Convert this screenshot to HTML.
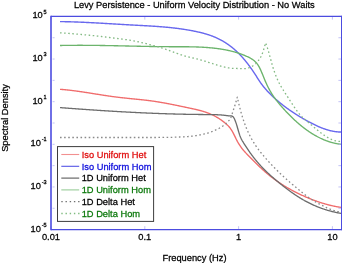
<!DOCTYPE html>
<html><head><meta charset="utf-8"><style>
html,body{margin:0;padding:0;background:#fff;}
svg{display:block;}
text{font-family:'Liberation Sans', Arial, Helvetica, sans-serif;}
</style></head><body>
<svg width="342" height="263" viewBox="0 0 342 263">
<rect width="342" height="263" fill="#fff"/>

<text transform="translate(194.30,8.10) scale(0.94,1)" font-size="9.9" text-anchor="middle" fill="#000" stroke="#000" stroke-width="0.27">Levy Persistence - Uniform Velocity Distribution - No Waits</text>
<g fill="none" stroke-linejoin="round">
<path d="M60.0,21.60 60.5,21.61 61.0,21.62 61.5,21.62 62.0,21.63 62.5,21.64 63.0,21.64 63.5,21.65 64.0,21.66 64.5,21.67 65.0,21.68 65.5,21.69 66.0,21.70 66.5,21.71 67.0,21.72 67.5,21.74 68.0,21.75 68.5,21.76 69.0,21.77 69.5,21.79 70.0,21.80 70.5,21.81 71.0,21.83 71.5,21.84 72.0,21.86 72.5,21.87 73.0,21.89 73.5,21.91 74.0,21.92 74.5,21.94 75.0,21.96 75.5,21.97 76.0,21.99 76.5,22.01 77.0,22.03 77.5,22.05 78.0,22.07 78.5,22.09 79.0,22.10 79.5,22.12 80.0,22.15 80.5,22.17 81.0,22.19 81.5,22.21 82.0,22.23 82.5,22.25 83.0,22.27 83.5,22.29 84.0,22.32 84.5,22.34 85.0,22.36 85.5,22.38 86.0,22.41 86.5,22.43 87.0,22.46 87.5,22.48 88.0,22.50 88.5,22.53 89.0,22.55 89.5,22.58 90.0,22.60 90.5,22.63 91.0,22.65 91.5,22.68 92.0,22.71 92.5,22.73 93.0,22.76 93.5,22.78 94.0,22.81 94.5,22.84 95.0,22.86 95.5,22.89 96.0,22.92 96.5,22.95 97.0,22.97 97.5,23.00 98.0,23.03 98.5,23.06 99.0,23.08 99.5,23.11 100.0,23.14 100.5,23.17 101.0,23.20 101.5,23.23 102.0,23.25 102.5,23.28 103.0,23.31 103.5,23.34 104.0,23.37 104.5,23.40 105.0,23.43 105.5,23.46 106.0,23.49 106.5,23.52 107.0,23.55 107.5,23.58 108.0,23.61 108.5,23.64 109.0,23.66 109.5,23.69 110.0,23.72 110.5,23.75 111.0,23.78 111.5,23.81 112.0,23.84 112.5,23.87 113.0,23.90 113.5,23.93 114.0,23.96 114.5,23.99 115.0,24.02 115.5,24.05 116.0,24.08 116.5,24.11 117.0,24.14 117.5,24.17 118.0,24.20 118.5,24.23 119.0,24.26 119.5,24.29 120.0,24.32 120.5,24.35 121.0,24.38 121.5,24.41 122.0,24.44 122.5,24.47 123.0,24.50 123.5,24.53 124.0,24.56 124.5,24.59 125.0,24.61 125.5,24.64 126.0,24.67 126.5,24.70 127.0,24.73 127.5,24.76 128.0,24.79 128.5,24.81 129.0,24.84 129.5,24.87 130.0,24.90 130.5,24.93 131.0,24.95 131.5,24.98 132.0,25.01 132.5,25.03 133.0,25.06 133.5,25.09 134.0,25.12 134.5,25.14 135.0,25.17 135.5,25.20 136.0,25.22 136.5,25.25 137.0,25.28 137.5,25.30 138.0,25.33 138.5,25.36 139.0,25.38 139.5,25.41 140.0,25.44 140.5,25.46 141.0,25.49 141.5,25.52 142.0,25.54 142.5,25.57 143.0,25.60 143.5,25.62 144.0,25.65 144.5,25.68 145.0,25.71 145.5,25.74 146.0,25.76 146.5,25.79 147.0,25.82 147.5,25.85 148.0,25.88 148.5,25.91 149.0,25.94 149.5,25.97 150.0,26.00 150.5,26.03 151.0,26.06 151.5,26.09 152.0,26.12 152.5,26.15 153.0,26.19 153.5,26.22 154.0,26.25 154.5,26.28 155.0,26.32 155.5,26.35 156.0,26.39 156.5,26.42 157.0,26.46 157.5,26.49 158.0,26.53 158.5,26.57 159.0,26.60 159.5,26.64 160.0,26.68 160.5,26.72 161.0,26.76 161.5,26.80 162.0,26.84 162.5,26.88 163.0,26.92 163.5,26.96 164.0,27.00 164.5,27.05 165.0,27.09 165.5,27.14 166.0,27.18 166.5,27.23 167.0,27.27 167.5,27.32 168.0,27.37 168.5,27.42 169.0,27.47 169.5,27.52 170.0,27.57 170.5,27.62 171.0,27.67 171.5,27.72 172.0,27.78 172.5,27.83 173.0,27.89 173.5,27.95 174.0,28.00 174.5,28.06 175.0,28.12 175.5,28.18 176.0,28.24 176.5,28.30 177.0,28.36 177.5,28.43 178.0,28.49 178.5,28.56 179.0,28.62 179.5,28.69 180.0,28.76 180.5,28.83 181.0,28.90 181.5,28.97 182.0,29.04 182.5,29.11 183.0,29.19 183.5,29.26 184.0,29.34 184.5,29.42 185.0,29.49 185.5,29.57 186.0,29.65 186.5,29.74 187.0,29.82 187.5,29.90 188.0,29.99 188.5,30.07 189.0,30.16 189.5,30.25 190.0,30.34 190.5,30.43 191.0,30.52 191.5,30.62 192.0,30.71 192.5,30.81 193.0,30.91 193.5,31.00 194.0,31.10 194.5,31.21 195.0,31.31 195.5,31.41 196.0,31.52 196.5,31.62 197.0,31.73 197.5,31.84 198.0,31.95 198.5,32.06 199.0,32.18 199.5,32.30 200.0,32.41 200.5,32.53 201.0,32.66 201.5,32.78 202.0,32.91 202.5,33.03 203.0,33.17 203.5,33.30 204.0,33.44 204.5,33.57 205.0,33.71 205.5,33.86 206.0,34.01 206.5,34.16 207.0,34.31 207.5,34.46 208.0,34.62 208.5,34.78 209.0,34.95 209.5,35.12 210.0,35.29 210.5,35.46 211.0,35.64 211.5,35.83 212.0,36.01 212.5,36.20 213.0,36.40 213.5,36.59 214.0,36.80 214.5,37.00 215.0,37.21 215.5,37.43 216.0,37.65 216.5,37.87 217.0,38.10 217.5,38.33 218.0,38.57 218.5,38.81 219.0,39.05 219.5,39.31 220.0,39.56 220.5,39.82 221.0,40.09 221.5,40.36 222.0,40.64 222.5,40.92 223.0,41.21 223.5,41.50 224.0,41.80 224.5,42.10 225.0,42.41 225.5,42.73 226.0,43.05 226.5,43.38 227.0,43.71 227.5,44.05 228.0,44.40 228.5,44.75 229.0,45.11 229.5,45.47 230.0,45.84 230.5,46.22 231.0,46.61 231.5,47.00 232.0,47.39 232.5,47.80 233.0,48.21 233.5,48.63 234.0,49.06 234.5,49.49 235.0,49.93 235.5,50.38 236.0,50.83 236.5,51.29 237.0,51.76 237.5,52.24 238.0,52.73 238.5,53.22 239.0,53.72 239.5,54.23 240.0,54.75 240.5,55.27 241.0,55.80 241.5,56.35 242.0,56.90 242.5,57.45 243.0,58.02 243.5,58.59 244.0,59.18 244.5,59.77 245.0,60.37 245.5,60.98 246.0,61.60 246.5,62.23 247.0,62.86 247.5,63.51 248.0,64.16 248.5,64.82 249.0,65.49 249.5,66.17 250.0,66.86 250.5,67.55 251.0,68.25 251.5,68.96 252.0,69.68 252.5,70.41 253.0,71.14 253.5,71.88 254.0,72.63 254.5,73.38 255.0,74.14 255.5,74.91 256.0,75.69 256.5,76.47 257.0,77.26 257.5,78.04 258.0,78.83 258.5,79.61 259.0,80.38 259.5,81.14 260.0,81.88 260.5,82.61 261.0,83.32 261.5,84.01 262.0,84.68 262.5,85.33 263.0,85.97 263.5,86.60 264.0,87.21 264.5,87.81 265.0,88.41 265.5,88.99 266.0,89.56 266.5,90.13 267.0,90.68 267.5,91.23 268.0,91.77 268.5,92.29 269.0,92.82 269.5,93.33 270.0,93.83 270.5,94.33 271.0,94.82 271.5,95.31 272.0,95.79 272.5,96.26 273.0,96.73 273.5,97.19 274.0,97.64 274.5,98.09 275.0,98.54 275.5,98.98 276.0,99.42 276.5,99.86 277.0,100.29 277.5,100.72 278.0,101.14 278.5,101.56 279.0,101.98 279.5,102.39 280.0,102.80 280.5,103.21 281.0,103.61 281.5,104.01 282.0,104.41 282.5,104.80 283.0,105.19 283.5,105.58 284.0,105.96 284.5,106.34 285.0,106.72 285.5,107.10 286.0,107.47 286.5,107.84 287.0,108.20 287.5,108.56 288.0,108.92 288.5,109.28 289.0,109.63 289.5,109.99 290.0,110.33 290.5,110.68 291.0,111.02 291.5,111.36 292.0,111.70 292.5,112.04 293.0,112.37 293.5,112.70 294.0,113.03 294.5,113.35 295.0,113.68 295.5,114.00 296.0,114.31 296.5,114.63 297.0,114.94 297.5,115.26 298.0,115.56 298.5,115.87 299.0,116.18 299.5,116.48 300.0,116.78 300.5,117.08 301.0,117.38 301.5,117.67 302.0,117.96 302.5,118.25 303.0,118.54 303.5,118.83 304.0,119.12 304.5,119.40 305.0,119.68 305.5,119.96 306.0,120.24 306.5,120.52 307.0,120.80 307.5,121.07 308.0,121.34 308.5,121.61 309.0,121.88 309.5,122.15 310.0,122.42 310.5,122.68 311.0,122.94 311.5,123.20 312.0,123.45 312.5,123.71 313.0,123.96 313.5,124.21 314.0,124.46 314.5,124.70 315.0,124.94 315.5,125.18 316.0,125.42 316.5,125.65 317.0,125.88 317.5,126.11 318.0,126.33 318.5,126.55 319.0,126.77 319.5,126.98 320.0,127.20 320.5,127.40 321.0,127.61 321.5,127.81 322.0,128.00 322.5,128.20 323.0,128.38 323.5,128.57 324.0,128.75 324.5,128.93 325.0,129.10 325.5,129.27 326.0,129.43 326.5,129.59 327.0,129.75 327.5,129.90 328.0,130.04 328.5,130.19 329.0,130.32 329.5,130.45 330.0,130.58 330.5,130.70 331.0,130.82 331.5,130.93 332.0,131.04 332.5,131.14 333.0,131.24 333.5,131.33 334.0,131.42 334.5,131.50 335.0,131.57 335.5,131.64 336.0,131.70 336.5,131.76 337.0,131.81 337.5,131.86 338.0,131.89 338.5,131.93 339.0,131.95 339.5,131.98 340.0,131.99 340.5,132.00 341.0,132.00" stroke="#6868ee" stroke-width="1.4"/>
<path d="M60.0,45.50 60.5,45.49 61.0,45.48 61.5,45.47 62.0,45.46 62.5,45.45 63.0,45.44 63.5,45.43 64.0,45.42 64.5,45.41 65.0,45.41 65.5,45.40 66.0,45.39 66.5,45.38 67.0,45.38 67.5,45.37 68.0,45.36 68.5,45.36 69.0,45.35 69.5,45.35 70.0,45.34 70.5,45.34 71.0,45.33 71.5,45.33 72.0,45.32 72.5,45.32 73.0,45.31 73.5,45.31 74.0,45.31 74.5,45.31 75.0,45.30 75.5,45.30 76.0,45.30 76.5,45.30 77.0,45.30 77.5,45.29 78.0,45.29 78.5,45.29 79.0,45.29 79.5,45.29 80.0,45.29 80.5,45.29 81.0,45.29 81.5,45.29 82.0,45.29 82.5,45.29 83.0,45.30 83.5,45.30 84.0,45.30 84.5,45.30 85.0,45.30 85.5,45.31 86.0,45.31 86.5,45.31 87.0,45.31 87.5,45.32 88.0,45.32 88.5,45.32 89.0,45.33 89.5,45.33 90.0,45.34 90.5,45.34 91.0,45.35 91.5,45.35 92.0,45.35 92.5,45.36 93.0,45.37 93.5,45.37 94.0,45.38 94.5,45.38 95.0,45.39 95.5,45.39 96.0,45.40 96.5,45.41 97.0,45.41 97.5,45.42 98.0,45.43 98.5,45.43 99.0,45.44 99.5,45.45 100.0,45.46 100.5,45.46 101.0,45.47 101.5,45.48 102.0,45.49 102.5,45.49 103.0,45.50 103.5,45.51 104.0,45.52 104.5,45.53 105.0,45.54 105.5,45.55 106.0,45.55 106.5,45.56 107.0,45.57 107.5,45.58 108.0,45.59 108.5,45.60 109.0,45.61 109.5,45.62 110.0,45.63 110.5,45.64 111.0,45.65 111.5,45.66 112.0,45.67 112.5,45.68 113.0,45.69 113.5,45.70 114.0,45.71 114.5,45.72 115.0,45.73 115.5,45.74 116.0,45.75 116.5,45.76 117.0,45.77 117.5,45.78 118.0,45.79 118.5,45.80 119.0,45.82 119.5,45.83 120.0,45.84 120.5,45.85 121.0,45.86 121.5,45.87 122.0,45.88 122.5,45.89 123.0,45.90 123.5,45.91 124.0,45.93 124.5,45.94 125.0,45.95 125.5,45.96 126.0,45.97 126.5,45.98 127.0,45.99 127.5,46.00 128.0,46.01 128.5,46.03 129.0,46.04 129.5,46.05 130.0,46.06 130.5,46.07 131.0,46.08 131.5,46.09 132.0,46.10 132.5,46.12 133.0,46.13 133.5,46.14 134.0,46.15 134.5,46.16 135.0,46.17 135.5,46.18 136.0,46.19 136.5,46.20 137.0,46.21 137.5,46.22 138.0,46.24 138.5,46.25 139.0,46.26 139.5,46.27 140.0,46.28 140.5,46.29 141.0,46.30 141.5,46.31 142.0,46.32 142.5,46.33 143.0,46.34 143.5,46.35 144.0,46.36 144.5,46.37 145.0,46.38 145.5,46.39 146.0,46.40 146.5,46.41 147.0,46.42 147.5,46.43 148.0,46.43 148.5,46.44 149.0,46.45 149.5,46.46 150.0,46.47 150.5,46.48 151.0,46.49 151.5,46.50 152.0,46.50 152.5,46.51 153.0,46.52 153.5,46.53 154.0,46.54 154.5,46.54 155.0,46.55 155.5,46.56 156.0,46.57 156.5,46.57 157.0,46.58 157.5,46.59 158.0,46.59 158.5,46.60 159.0,46.61 159.5,46.61 160.0,46.62 160.5,46.63 161.0,46.63 161.5,46.64 162.0,46.64 162.5,46.65 163.0,46.65 163.5,46.66 164.0,46.66 164.5,46.67 165.0,46.67 165.5,46.68 166.0,46.68 166.5,46.68 167.0,46.69 167.5,46.69 168.0,46.69 168.5,46.70 169.0,46.70 169.5,46.70 170.0,46.70 170.5,46.71 171.0,46.71 171.5,46.71 172.0,46.71 172.5,46.71 173.0,46.71 173.5,46.72 174.0,46.72 174.5,46.72 175.0,46.72 175.5,46.72 176.0,46.72 176.5,46.72 177.0,46.72 177.5,46.72 178.0,46.72 178.5,46.72 179.0,46.72 179.5,46.73 180.0,46.73 180.5,46.73 181.0,46.73 181.5,46.73 182.0,46.73 182.5,46.73 183.0,46.74 183.5,46.74 184.0,46.74 184.5,46.74 185.0,46.75 185.5,46.75 186.0,46.76 186.5,46.76 187.0,46.77 187.5,46.77 188.0,46.78 188.5,46.78 189.0,46.79 189.5,46.80 190.0,46.80 190.5,46.81 191.0,46.82 191.5,46.83 192.0,46.84 192.5,46.85 193.0,46.86 193.5,46.87 194.0,46.88 194.5,46.90 195.0,46.91 195.5,46.93 196.0,46.94 196.5,46.96 197.0,46.97 197.5,46.99 198.0,47.01 198.5,47.03 199.0,47.05 199.5,47.07 200.0,47.09 200.5,47.12 201.0,47.14 201.5,47.16 202.0,47.19 202.5,47.22 203.0,47.24 203.5,47.27 204.0,47.30 204.5,47.33 205.0,47.37 205.5,47.40 206.0,47.43 206.5,47.47 207.0,47.51 207.5,47.54 208.0,47.58 208.5,47.62 209.0,47.66 209.5,47.71 210.0,47.75 210.5,47.80 211.0,47.84 211.5,47.89 212.0,47.94 212.5,47.99 213.0,48.04 213.5,48.10 214.0,48.15 214.5,48.21 215.0,48.27 215.5,48.33 216.0,48.39 216.5,48.45 217.0,48.51 217.5,48.58 218.0,48.65 218.5,48.72 219.0,48.79 219.5,48.86 220.0,48.93 220.5,49.01 221.0,49.09 221.5,49.17 222.0,49.25 222.5,49.33 223.0,49.41 223.5,49.50 224.0,49.59 224.5,49.68 225.0,49.77 225.5,49.86 226.0,49.96 226.5,50.06 227.0,50.16 227.5,50.26 228.0,50.37 228.5,50.47 229.0,50.58 229.5,50.70 230.0,50.81 230.5,50.93 231.0,51.05 231.5,51.17 232.0,51.29 232.5,51.42 233.0,51.55 233.5,51.68 234.0,51.82 234.5,51.96 235.0,52.10 235.5,52.24 236.0,52.39 236.5,52.54 237.0,52.69 237.5,52.85 238.0,53.01 238.5,53.17 239.0,53.34 239.5,53.51 240.0,53.68 240.5,53.86 241.0,54.04 241.5,54.22 242.0,54.41 242.5,54.60 243.0,54.80 243.5,55.00 244.0,55.20 244.5,55.41 245.0,55.62 245.5,55.83 246.0,56.05 246.5,56.27 247.0,56.50 247.5,56.73 248.0,56.97 248.5,57.20 249.0,57.45 249.5,57.70 250.0,57.96 250.5,58.23 251.0,58.52 251.5,58.81 252.0,59.13 252.5,59.46 253.0,59.82 253.5,60.19 254.0,60.59 254.5,61.02 255.0,61.47 255.5,61.96 256.0,62.48 256.5,63.03 257.0,63.64 257.5,64.29 258.0,65.01 258.5,65.80 259.0,66.66 259.5,67.59 260.0,68.60 260.5,69.66 261.0,70.78 261.5,71.94 262.0,73.13 262.5,74.34 263.0,75.57 263.5,76.80 264.0,78.03 264.5,79.25 265.0,80.44 265.5,81.61 266.0,82.74 266.5,83.84 267.0,84.92 267.5,85.96 268.0,86.97 268.5,87.95 269.0,88.91 269.5,89.83 270.0,90.73 270.5,91.61 271.0,92.46 271.5,93.28 272.0,94.09 272.5,94.87 273.0,95.63 273.5,96.36 274.0,97.08 274.5,97.79 275.0,98.47 275.5,99.14 276.0,99.80 276.5,100.45 277.0,101.08 277.5,101.70 278.0,102.31 278.5,102.92 279.0,103.52 279.5,104.11 280.0,104.70 280.5,105.28 281.0,105.86 281.5,106.44 282.0,107.01 282.5,107.58 283.0,108.14 283.5,108.70 284.0,109.26 284.5,109.81 285.0,110.35 285.5,110.90 286.0,111.43 286.5,111.97 287.0,112.50 287.5,113.02 288.0,113.54 288.5,114.06 289.0,114.57 289.5,115.08 290.0,115.59 290.5,116.09 291.0,116.58 291.5,117.08 292.0,117.56 292.5,118.05 293.0,118.53 293.5,119.00 294.0,119.47 294.5,119.94 295.0,120.40 295.5,120.86 296.0,121.31 296.5,121.76 297.0,122.21 297.5,122.65 298.0,123.08 298.5,123.51 299.0,123.94 299.5,124.37 300.0,124.79 300.5,125.20 301.0,125.61 301.5,126.02 302.0,126.42 302.5,126.82 303.0,127.21 303.5,127.60 304.0,127.99 304.5,128.37 305.0,128.74 305.5,129.11 306.0,129.48 306.5,129.85 307.0,130.21 307.5,130.56 308.0,130.91 308.5,131.26 309.0,131.60 309.5,131.94 310.0,132.27 310.5,132.60 311.0,132.92 311.5,133.24 312.0,133.56 312.5,133.87 313.0,134.18 313.5,134.48 314.0,134.78 314.5,135.07 315.0,135.36 315.5,135.64 316.0,135.92 316.5,136.20 317.0,136.47 317.5,136.74 318.0,137.00 318.5,137.26 319.0,137.52 319.5,137.77 320.0,138.01 320.5,138.25 321.0,138.49 321.5,138.72 322.0,138.95 322.5,139.17 323.0,139.39 323.5,139.61 324.0,139.82 324.5,140.02 325.0,140.22 325.5,140.42 326.0,140.61 326.5,140.80 327.0,140.98 327.5,141.16 328.0,141.34 328.5,141.51 329.0,141.67 329.5,141.83 330.0,141.99 330.5,142.14 331.0,142.29 331.5,142.43 332.0,142.57 332.5,142.71 333.0,142.84 333.5,142.96 334.0,143.08 334.5,143.20 335.0,143.31 335.5,143.42 336.0,143.52 336.5,143.62 337.0,143.71 337.5,143.80 338.0,143.89 338.5,143.97 339.0,144.04 339.5,144.12 340.0,144.18 340.5,144.25 341.0,144.30" stroke="#6cb46c" stroke-width="1.35"/>
<path d="M60.0,32.80 60.5,32.83 61.0,32.87 61.5,32.90 62.0,32.93 62.5,32.97 63.0,33.00 63.5,33.04 64.0,33.07 64.5,33.11 65.0,33.14 65.5,33.18 66.0,33.22 66.5,33.25 67.0,33.29 67.5,33.33 68.0,33.37 68.5,33.41 69.0,33.44 69.5,33.48 70.0,33.52 70.5,33.56 71.0,33.60 71.5,33.64 72.0,33.68 72.5,33.72 73.0,33.76 73.5,33.81 74.0,33.85 74.5,33.89 75.0,33.93 75.5,33.97 76.0,34.02 76.5,34.06 77.0,34.10 77.5,34.15 78.0,34.19 78.5,34.23 79.0,34.28 79.5,34.32 80.0,34.37 80.5,34.41 81.0,34.46 81.5,34.50 82.0,34.55 82.5,34.59 83.0,34.64 83.5,34.69 84.0,34.73 84.5,34.78 85.0,34.83 85.5,34.87 86.0,34.92 86.5,34.97 87.0,35.02 87.5,35.06 88.0,35.11 88.5,35.16 89.0,35.21 89.5,35.26 90.0,35.30 90.5,35.35 91.0,35.40 91.5,35.45 92.0,35.50 92.5,35.55 93.0,35.60 93.5,35.65 94.0,35.70 94.5,35.75 95.0,35.80 95.5,35.86 96.0,35.91 96.5,35.96 97.0,36.02 97.5,36.07 98.0,36.12 98.5,36.18 99.0,36.24 99.5,36.29 100.0,36.35 100.5,36.41 101.0,36.46 101.5,36.52 102.0,36.58 102.5,36.64 103.0,36.70 103.5,36.76 104.0,36.82 104.5,36.88 105.0,36.94 105.5,37.00 106.0,37.06 106.5,37.12 107.0,37.18 107.5,37.24 108.0,37.30 108.5,37.36 109.0,37.43 109.5,37.49 110.0,37.55 110.5,37.61 111.0,37.67 111.5,37.74 112.0,37.80 112.5,37.86 113.0,37.92 113.5,37.99 114.0,38.05 114.5,38.11 115.0,38.17 115.5,38.23 116.0,38.30 116.5,38.36 117.0,38.42 117.5,38.48 118.0,38.54 118.5,38.61 119.0,38.67 119.5,38.73 120.0,38.80 120.5,38.86 121.0,38.93 121.5,38.99 122.0,39.06 122.5,39.12 123.0,39.19 123.5,39.26 124.0,39.33 124.5,39.40 125.0,39.47 125.5,39.54 126.0,39.61 126.5,39.69 127.0,39.76 127.5,39.84 128.0,39.91 128.5,39.99 129.0,40.07 129.5,40.15 130.0,40.23 130.5,40.32 131.0,40.40 131.5,40.49 132.0,40.57 132.5,40.66 133.0,40.76 133.5,40.85 134.0,40.94 134.5,41.04 135.0,41.14 135.5,41.24 136.0,41.34 136.5,41.44 137.0,41.54 137.5,41.65 138.0,41.75 138.5,41.86 139.0,41.97 139.5,42.08 140.0,42.19 140.5,42.30 141.0,42.42 141.5,42.53 142.0,42.65 142.5,42.76 143.0,42.88 143.5,43.00 144.0,43.12 144.5,43.24 145.0,43.37 145.5,43.49 146.0,43.61 146.5,43.74 147.0,43.87 147.5,43.99 148.0,44.12 148.5,44.25 149.0,44.38 149.5,44.51 150.0,44.64 150.5,44.77 151.0,44.91 151.5,45.04 152.0,45.17 152.5,45.31 153.0,45.44 153.5,45.58 154.0,45.71 154.5,45.85 155.0,45.99 155.5,46.13 156.0,46.26 156.5,46.40 157.0,46.54 157.5,46.68 158.0,46.82 158.5,46.96 159.0,47.10 159.5,47.24 160.0,47.39 160.5,47.54 161.0,47.69 161.5,47.84 162.0,48.00 162.5,48.16 163.0,48.32 163.5,48.48 164.0,48.65 164.5,48.82 165.0,48.99 165.5,49.16 166.0,49.34 166.5,49.51 167.0,49.69 167.5,49.87 168.0,50.05 168.5,50.23 169.0,50.41 169.5,50.60 170.0,50.78 170.5,50.97 171.0,51.15 171.5,51.34 172.0,51.52 172.5,51.71 173.0,51.89 173.5,52.08 174.0,52.27 174.5,52.45 175.0,52.64 175.5,52.82 176.0,53.00 176.5,53.19 177.0,53.37 177.5,53.55 178.0,53.73 178.5,53.90 179.0,54.08 179.5,54.26 180.0,54.43 180.5,54.60 181.0,54.77 181.5,54.94 182.0,55.10 182.5,55.26 183.0,55.42 183.5,55.58 184.0,55.74 184.5,55.89 185.0,56.04 185.5,56.18 186.0,56.32 186.5,56.46 187.0,56.60 187.5,56.73 188.0,56.86 188.5,56.98 189.0,57.10 189.5,57.22 190.0,57.33 190.5,57.45 191.0,57.56 191.5,57.67 192.0,57.78 192.5,57.89 193.0,58.00 193.5,58.11 194.0,58.22 194.5,58.34 195.0,58.45 195.5,58.58 196.0,58.70 196.5,58.83 197.0,58.96 197.5,59.09 198.0,59.22 198.5,59.36 199.0,59.49 199.5,59.63 200.0,59.77 200.5,59.91 201.0,60.05 201.5,60.19 202.0,60.33 202.5,60.48 203.0,60.62 203.5,60.77 204.0,60.92 204.5,61.07 205.0,61.23 205.5,61.38 206.0,61.54 206.5,61.70 207.0,61.86 207.5,62.03 208.0,62.19 208.5,62.35 209.0,62.51 209.5,62.67 210.0,62.83 210.5,62.99 211.0,63.14 211.5,63.29 212.0,63.44 212.5,63.60 213.0,63.75 213.5,63.91 214.0,64.07 214.5,64.22 215.0,64.38 215.5,64.54 216.0,64.70 216.5,64.86 217.0,65.01 217.5,65.17 218.0,65.32 218.5,65.48 219.0,65.63 219.5,65.78 220.0,65.92 220.5,66.07 221.0,66.21 221.5,66.35 222.0,66.48 222.5,66.61 223.0,66.74 223.5,66.86 224.0,66.98 224.5,67.09 225.0,67.20 225.5,67.30 226.0,67.40 226.5,67.50 227.0,67.59 227.5,67.69 228.0,67.78 228.5,67.87 229.0,67.96 229.5,68.04 230.0,68.11 230.5,68.18 231.0,68.23 231.5,68.27 232.0,68.30 232.5,68.32 233.0,68.34 233.5,68.36 234.0,68.38 234.5,68.40 235.0,68.41 235.5,68.43 236.0,68.45 236.5,68.46 237.0,68.48 237.5,68.49 238.0,68.50 238.5,68.51 239.0,68.53 239.5,68.54 240.0,68.55 240.5,68.55 241.0,68.56 241.5,68.57 242.0,68.58 242.5,68.58 243.0,68.59 243.5,68.59 244.0,68.60 244.5,68.60 245.0,68.60 245.5,68.60 246.0,68.59 246.5,68.53 247.0,68.43 247.5,68.30 248.0,68.13 248.5,67.94 249.0,67.74 249.5,67.53 250.0,67.32 250.5,67.12 251.0,66.90 251.5,66.65 252.0,66.39 252.5,66.10 253.0,65.80 253.5,65.47 254.0,65.12 254.5,64.75 255.0,64.32 255.5,63.85 256.0,63.34 256.5,62.80 257.0,62.23 257.5,61.64 258.0,61.04 258.5,60.41 259.0,59.74 259.5,59.03 260.0,58.26 260.5,57.43 261.0,56.49 261.5,55.45 262.0,54.29 262.5,53.02 263.0,51.63 263.5,50.12 264.0,48.49 264.5,46.74 265.0,44.88 265.5,42.90 266.0,43.98 266.5,45.23 267.0,46.61 267.5,48.12 268.0,49.73 268.5,51.42 269.0,53.18 269.5,54.99 270.0,56.83 270.5,58.68 271.0,60.53 271.5,62.35 272.0,64.14 272.5,65.86 273.0,67.51 273.5,69.09 274.0,70.61 274.5,72.06 275.0,73.45 275.5,74.78 276.0,76.06 276.5,77.28 277.0,78.46 277.5,79.58 278.0,80.67 278.5,81.71 279.0,82.71 279.5,83.68 280.0,84.62 280.5,85.52 281.0,86.40 281.5,87.26 282.0,88.09 282.5,88.91 283.0,89.71 283.5,90.50 284.0,91.28 284.5,92.05 285.0,92.82 285.5,93.59 286.0,94.36 286.5,95.14 287.0,95.91 287.5,96.69 288.0,97.46 288.5,98.24 289.0,99.02 289.5,99.80 290.0,100.57 290.5,101.35 291.0,102.12 291.5,102.89 292.0,103.66 292.5,104.43 293.0,105.19 293.5,105.94 294.0,106.69 294.5,107.43 295.0,108.16 295.5,108.88 296.0,109.59 296.5,110.29 297.0,110.97 297.5,111.64 298.0,112.30 298.5,112.94 299.0,113.56 299.5,114.16 300.0,114.74 300.5,115.31 301.0,115.85 301.5,116.36 302.0,116.86 302.5,117.34 303.0,117.81 303.5,118.26 304.0,118.71 304.5,119.14 305.0,119.57 305.5,119.99 306.0,120.41 306.5,120.82 307.0,121.24 307.5,121.67 308.0,122.09 308.5,122.52 309.0,122.94 309.5,123.37 310.0,123.80 310.5,124.23 311.0,124.66 311.5,125.10 312.0,125.53 312.5,125.96 313.0,126.39 313.5,126.82 314.0,127.24 314.5,127.67 315.0,128.10 315.5,128.52 316.0,128.94 316.5,129.36 317.0,129.77 317.5,130.19 318.0,130.60 318.5,131.00 319.0,131.40 319.5,131.80 320.0,132.19 320.5,132.58 321.0,132.97 321.5,133.35 322.0,133.72 322.5,134.09 323.0,134.45 323.5,134.81 324.0,135.15 324.5,135.50 325.0,135.83 325.5,136.16 326.0,136.48 326.5,136.80 327.0,137.10 327.5,137.40 328.0,137.69 328.5,137.96 329.0,138.23 329.5,138.50 330.0,138.75 330.5,138.99 331.0,139.22 331.5,139.44 332.0,139.65 332.5,139.85 333.0,140.04 333.5,140.21 334.0,140.38 334.5,140.53 335.0,140.67 335.5,140.80 336.0,140.91 336.5,141.02 337.0,141.10 337.5,141.18 338.0,141.24 338.5,141.29 339.0,141.32 339.5,141.34 340.0,141.34 340.5,141.33 341.0,141.30" stroke="#84ba84" stroke-width="1.3" stroke-dasharray="1.6 2.5"/>
<path d="M60.0,89.30 60.5,89.34 61.0,89.38 61.5,89.42 62.0,89.46 62.5,89.50 63.0,89.54 63.5,89.59 64.0,89.63 64.5,89.68 65.0,89.72 65.5,89.77 66.0,89.82 66.5,89.87 67.0,89.92 67.5,89.98 68.0,90.03 68.5,90.08 69.0,90.14 69.5,90.20 70.0,90.25 70.5,90.31 71.0,90.37 71.5,90.43 72.0,90.49 72.5,90.55 73.0,90.62 73.5,90.68 74.0,90.74 74.5,90.81 75.0,90.87 75.5,90.94 76.0,91.01 76.5,91.07 77.0,91.14 77.5,91.21 78.0,91.28 78.5,91.35 79.0,91.42 79.5,91.49 80.0,91.56 80.5,91.64 81.0,91.71 81.5,91.78 82.0,91.86 82.5,91.93 83.0,92.01 83.5,92.08 84.0,92.16 84.5,92.23 85.0,92.31 85.5,92.39 86.0,92.46 86.5,92.54 87.0,92.62 87.5,92.70 88.0,92.77 88.5,92.85 89.0,92.93 89.5,93.01 90.0,93.09 90.5,93.17 91.0,93.25 91.5,93.33 92.0,93.41 92.5,93.49 93.0,93.57 93.5,93.65 94.0,93.73 94.5,93.81 95.0,93.89 95.5,93.97 96.0,94.05 96.5,94.13 97.0,94.21 97.5,94.29 98.0,94.37 98.5,94.44 99.0,94.52 99.5,94.60 100.0,94.68 100.5,94.76 101.0,94.84 101.5,94.92 102.0,95.00 102.5,95.07 103.0,95.15 103.5,95.23 104.0,95.31 104.5,95.38 105.0,95.46 105.5,95.54 106.0,95.61 106.5,95.69 107.0,95.76 107.5,95.83 108.0,95.91 108.5,95.98 109.0,96.05 109.5,96.13 110.0,96.20 110.5,96.27 111.0,96.34 111.5,96.41 112.0,96.48 112.5,96.55 113.0,96.62 113.5,96.68 114.0,96.75 114.5,96.82 115.0,96.88 115.5,96.95 116.0,97.01 116.5,97.07 117.0,97.14 117.5,97.20 118.0,97.26 118.5,97.32 119.0,97.38 119.5,97.44 120.0,97.49 120.5,97.55 121.0,97.61 121.5,97.66 122.0,97.72 122.5,97.78 123.0,97.83 123.5,97.88 124.0,97.94 124.5,97.99 125.0,98.04 125.5,98.10 126.0,98.15 126.5,98.20 127.0,98.25 127.5,98.30 128.0,98.35 128.5,98.41 129.0,98.46 129.5,98.51 130.0,98.56 130.5,98.61 131.0,98.66 131.5,98.71 132.0,98.76 132.5,98.81 133.0,98.86 133.5,98.91 134.0,98.96 134.5,99.01 135.0,99.06 135.5,99.11 136.0,99.16 136.5,99.21 137.0,99.26 137.5,99.31 138.0,99.36 138.5,99.41 139.0,99.46 139.5,99.51 140.0,99.57 140.5,99.62 141.0,99.67 141.5,99.73 142.0,99.78 142.5,99.83 143.0,99.89 143.5,99.94 144.0,100.00 144.5,100.06 145.0,100.11 145.5,100.17 146.0,100.23 146.5,100.29 147.0,100.35 147.5,100.41 148.0,100.47 148.5,100.53 149.0,100.60 149.5,100.66 150.0,100.72 150.5,100.79 151.0,100.85 151.5,100.92 152.0,100.99 152.5,101.06 153.0,101.13 153.5,101.20 154.0,101.27 154.5,101.34 155.0,101.42 155.5,101.49 156.0,101.57 156.5,101.64 157.0,101.72 157.5,101.80 158.0,101.88 158.5,101.96 159.0,102.04 159.5,102.13 160.0,102.21 160.5,102.30 161.0,102.38 161.5,102.47 162.0,102.55 162.5,102.64 163.0,102.73 163.5,102.82 164.0,102.91 164.5,103.00 165.0,103.09 165.5,103.18 166.0,103.28 166.5,103.37 167.0,103.47 167.5,103.56 168.0,103.66 168.5,103.75 169.0,103.85 169.5,103.95 170.0,104.04 170.5,104.14 171.0,104.24 171.5,104.34 172.0,104.44 172.5,104.54 173.0,104.64 173.5,104.74 174.0,104.84 174.5,104.94 175.0,105.05 175.5,105.15 176.0,105.25 176.5,105.35 177.0,105.46 177.5,105.56 178.0,105.66 178.5,105.77 179.0,105.87 179.5,105.98 180.0,106.08 180.5,106.19 181.0,106.29 181.5,106.40 182.0,106.50 182.5,106.61 183.0,106.71 183.5,106.82 184.0,106.92 184.5,107.03 185.0,107.14 185.5,107.24 186.0,107.35 186.5,107.45 187.0,107.56 187.5,107.66 188.0,107.77 188.5,107.87 189.0,107.98 189.5,108.08 190.0,108.19 190.5,108.29 191.0,108.40 191.5,108.51 192.0,108.61 192.5,108.72 193.0,108.83 193.5,108.94 194.0,109.05 194.5,109.16 195.0,109.27 195.5,109.39 196.0,109.50 196.5,109.62 197.0,109.74 197.5,109.86 198.0,109.98 198.5,110.11 199.0,110.23 199.5,110.36 200.0,110.50 200.5,110.63 201.0,110.77 201.5,110.91 202.0,111.05 202.5,111.20 203.0,111.35 203.5,111.50 204.0,111.66 204.5,111.82 205.0,111.98 205.5,112.15 206.0,112.32 206.5,112.50 207.0,112.68 207.5,112.86 208.0,113.05 208.5,113.24 209.0,113.44 209.5,113.64 210.0,113.85 210.5,114.06 211.0,114.28 211.5,114.50 212.0,114.73 212.5,114.96 213.0,115.20 213.5,115.45 214.0,115.70 214.5,115.95 215.0,116.22 215.5,116.49 216.0,116.76 216.5,117.04 217.0,117.33 217.5,117.63 218.0,117.93 218.5,118.24 219.0,118.55 219.5,118.88 220.0,119.21 220.5,119.54 221.0,119.89 221.5,120.24 222.0,120.60 222.5,120.97 223.0,121.35 223.5,121.73 224.0,122.13 224.5,122.53 225.0,122.94 225.5,123.35 226.0,123.78 226.5,124.22 227.0,124.67 227.5,125.13 228.0,125.62 228.5,126.14 229.0,126.69 229.5,127.27 230.0,127.89 230.5,128.55 231.0,129.27 231.5,130.03 232.0,130.86 232.5,131.74 233.0,132.66 233.5,133.62 234.0,134.62 234.5,135.63 235.0,136.65 235.5,137.67 236.0,138.68 236.5,139.68 237.0,140.65 237.5,141.59 238.0,142.48 238.5,143.34 239.0,144.17 239.5,144.96 240.0,145.72 240.5,146.45 241.0,147.16 241.5,147.84 242.0,148.50 242.5,149.13 243.0,149.74 243.5,150.34 244.0,150.92 244.5,151.49 245.0,152.04 245.5,152.59 246.0,153.12 246.5,153.65 247.0,154.17 247.5,154.69 248.0,155.21 248.5,155.73 249.0,156.24 249.5,156.76 250.0,157.27 250.5,157.78 251.0,158.29 251.5,158.80 252.0,159.31 252.5,159.81 253.0,160.32 253.5,160.82 254.0,161.32 254.5,161.82 255.0,162.31 255.5,162.81 256.0,163.30 256.5,163.79 257.0,164.27 257.5,164.76 258.0,165.24 258.5,165.72 259.0,166.20 259.5,166.67 260.0,167.14 260.5,167.61 261.0,168.08 261.5,168.54 262.0,169.00 262.5,169.46 263.0,169.91 263.5,170.36 264.0,170.81 264.5,171.25 265.0,171.69 265.5,172.13 266.0,172.56 266.5,172.99 267.0,173.41 267.5,173.83 268.0,174.25 268.5,174.66 269.0,175.07 269.5,175.48 270.0,175.88 270.5,176.28 271.0,176.67 271.5,177.06 272.0,177.45 272.5,177.83 273.0,178.21 273.5,178.58 274.0,178.95 274.5,179.32 275.0,179.69 275.5,180.05 276.0,180.41 276.5,180.76 277.0,181.11 277.5,181.46 278.0,181.81 278.5,182.15 279.0,182.49 279.5,182.82 280.0,183.15 280.5,183.48 281.0,183.81 281.5,184.13 282.0,184.45 282.5,184.77 283.0,185.08 283.5,185.39 284.0,185.70 284.5,186.01 285.0,186.31 285.5,186.61 286.0,186.91 286.5,187.21 287.0,187.50 287.5,187.79 288.0,188.08 288.5,188.36 289.0,188.65 289.5,188.93 290.0,189.20 290.5,189.48 291.0,189.75 291.5,190.02 292.0,190.29 292.5,190.56 293.0,190.82 293.5,191.09 294.0,191.35 294.5,191.61 295.0,191.86 295.5,192.12 296.0,192.37 296.5,192.62 297.0,192.87 297.5,193.12 298.0,193.36 298.5,193.61 299.0,193.85 299.5,194.09 300.0,194.33 300.5,194.57 301.0,194.80 301.5,195.03 302.0,195.27 302.5,195.50 303.0,195.72 303.5,195.95 304.0,196.17 304.5,196.40 305.0,196.62 305.5,196.84 306.0,197.05 306.5,197.27 307.0,197.48 307.5,197.70 308.0,197.91 308.5,198.11 309.0,198.32 309.5,198.52 310.0,198.73 310.5,198.93 311.0,199.13 311.5,199.32 312.0,199.52 312.5,199.71 313.0,199.90 313.5,200.09 314.0,200.28 314.5,200.47 315.0,200.65 315.5,200.83 316.0,201.01 316.5,201.19 317.0,201.36 317.5,201.54 318.0,201.71 318.5,201.88 319.0,202.05 319.5,202.22 320.0,202.38 320.5,202.54 321.0,202.70 321.5,202.86 322.0,203.02 322.5,203.17 323.0,203.32 323.5,203.47 324.0,203.62 324.5,203.77 325.0,203.91 325.5,204.05 326.0,204.19 326.5,204.33 327.0,204.47 327.5,204.60 328.0,204.73 328.5,204.86 329.0,204.99 329.5,205.11 330.0,205.24 330.5,205.36 331.0,205.48 331.5,205.59 332.0,205.71 332.5,205.82 333.0,205.93 333.5,206.04 334.0,206.15 334.5,206.25 335.0,206.35 335.5,206.45 336.0,206.55 336.5,206.64 337.0,206.74 337.5,206.83 338.0,206.92 338.5,207.00 339.0,207.09 339.5,207.17 340.0,207.25 340.5,207.33 341.0,207.40" stroke="#f06c6c" stroke-width="1.35"/>
<path d="M60.0,107.60 60.5,107.63 61.0,107.67 61.5,107.71 62.0,107.75 62.5,107.79 63.0,107.83 63.5,107.86 64.0,107.90 64.5,107.94 65.0,107.98 65.5,108.02 66.0,108.05 66.5,108.09 67.0,108.13 67.5,108.17 68.0,108.20 68.5,108.24 69.0,108.28 69.5,108.32 70.0,108.35 70.5,108.39 71.0,108.43 71.5,108.47 72.0,108.50 72.5,108.54 73.0,108.58 73.5,108.61 74.0,108.65 74.5,108.69 75.0,108.72 75.5,108.76 76.0,108.80 76.5,108.83 77.0,108.87 77.5,108.91 78.0,108.94 78.5,108.98 79.0,109.01 79.5,109.05 80.0,109.09 80.5,109.12 81.0,109.16 81.5,109.19 82.0,109.23 82.5,109.26 83.0,109.30 83.5,109.33 84.0,109.37 84.5,109.40 85.0,109.44 85.5,109.47 86.0,109.51 86.5,109.54 87.0,109.58 87.5,109.61 88.0,109.65 88.5,109.68 89.0,109.72 89.5,109.75 90.0,109.79 90.5,109.82 91.0,109.85 91.5,109.89 92.0,109.92 92.5,109.96 93.0,109.99 93.5,110.02 94.0,110.06 94.5,110.09 95.0,110.12 95.5,110.16 96.0,110.19 96.5,110.22 97.0,110.26 97.5,110.29 98.0,110.32 98.5,110.35 99.0,110.39 99.5,110.42 100.0,110.45 100.5,110.48 101.0,110.52 101.5,110.55 102.0,110.58 102.5,110.61 103.0,110.65 103.5,110.68 104.0,110.71 104.5,110.74 105.0,110.77 105.5,110.80 106.0,110.83 106.5,110.87 107.0,110.90 107.5,110.93 108.0,110.96 108.5,110.99 109.0,111.02 109.5,111.05 110.0,111.08 110.5,111.11 111.0,111.14 111.5,111.17 112.0,111.20 112.5,111.23 113.0,111.26 113.5,111.29 114.0,111.32 114.5,111.35 115.0,111.38 115.5,111.41 116.0,111.44 116.5,111.47 117.0,111.50 117.5,111.53 118.0,111.55 118.5,111.58 119.0,111.61 119.5,111.64 120.0,111.67 120.5,111.70 121.0,111.73 121.5,111.75 122.0,111.78 122.5,111.81 123.0,111.84 123.5,111.86 124.0,111.89 124.5,111.92 125.0,111.95 125.5,111.97 126.0,112.00 126.5,112.03 127.0,112.05 127.5,112.08 128.0,112.11 128.5,112.13 129.0,112.16 129.5,112.19 130.0,112.21 130.5,112.24 131.0,112.26 131.5,112.29 132.0,112.32 132.5,112.34 133.0,112.37 133.5,112.39 134.0,112.42 134.5,112.44 135.0,112.47 135.5,112.49 136.0,112.52 136.5,112.54 137.0,112.57 137.5,112.59 138.0,112.61 138.5,112.64 139.0,112.66 139.5,112.69 140.0,112.71 140.5,112.73 141.0,112.76 141.5,112.78 142.0,112.80 142.5,112.82 143.0,112.85 143.5,112.87 144.0,112.89 144.5,112.92 145.0,112.94 145.5,112.96 146.0,112.98 146.5,113.00 147.0,113.03 147.5,113.05 148.0,113.07 148.5,113.09 149.0,113.11 149.5,113.13 150.0,113.15 150.5,113.17 151.0,113.20 151.5,113.22 152.0,113.24 152.5,113.26 153.0,113.28 153.5,113.30 154.0,113.32 154.5,113.34 155.0,113.36 155.5,113.38 156.0,113.39 156.5,113.41 157.0,113.43 157.5,113.45 158.0,113.47 158.5,113.49 159.0,113.51 159.5,113.53 160.0,113.54 160.5,113.56 161.0,113.58 161.5,113.60 162.0,113.62 162.5,113.63 163.0,113.65 163.5,113.67 164.0,113.68 164.5,113.70 165.0,113.72 165.5,113.73 166.0,113.75 166.5,113.77 167.0,113.78 167.5,113.80 168.0,113.82 168.5,113.83 169.0,113.85 169.5,113.86 170.0,113.88 170.5,113.89 171.0,113.91 171.5,113.92 172.0,113.94 172.5,113.95 173.0,113.97 173.5,113.98 174.0,113.99 174.5,114.01 175.0,114.02 175.5,114.03 176.0,114.05 176.5,114.06 177.0,114.07 177.5,114.09 178.0,114.10 178.5,114.11 179.0,114.12 179.5,114.14 180.0,114.15 180.5,114.16 181.0,114.17 181.5,114.18 182.0,114.20 182.5,114.21 183.0,114.22 183.5,114.23 184.0,114.24 184.5,114.25 185.0,114.26 185.5,114.27 186.0,114.28 186.5,114.29 187.0,114.30 187.5,114.31 188.0,114.32 188.5,114.33 189.0,114.34 189.5,114.35 190.0,114.36 190.5,114.36 191.0,114.37 191.5,114.38 192.0,114.39 192.5,114.40 193.0,114.41 193.5,114.41 194.0,114.42 194.5,114.43 195.0,114.43 195.5,114.44 196.0,114.45 196.5,114.45 197.0,114.46 197.5,114.47 198.0,114.47 198.5,114.48 199.0,114.48 199.5,114.49 200.0,114.50 200.5,114.50 201.0,114.51 201.5,114.51 202.0,114.51 202.5,114.52 203.0,114.52 203.5,114.53 204.0,114.53 204.5,114.53 205.0,114.54 205.5,114.54 206.0,114.54 206.5,114.55 207.0,114.55 207.5,114.55 208.0,114.56 208.5,114.56 209.0,114.56 209.5,114.57 210.0,114.57 210.5,114.58 211.0,114.58 211.5,114.59 212.0,114.59 212.5,114.60 213.0,114.61 213.5,114.62 214.0,114.63 214.5,114.65 215.0,114.66 215.5,114.67 216.0,114.69 216.5,114.71 217.0,114.73 217.5,114.75 218.0,114.78 218.5,114.80 219.0,114.83 219.5,114.86 220.0,114.89 220.5,114.93 221.0,114.97 221.5,115.01 222.0,115.05 222.5,115.10 223.0,115.14 223.5,115.20 224.0,115.25 224.5,115.31 225.0,115.37 225.5,115.43 226.0,115.50 226.5,115.57 227.0,115.64 227.5,115.71 228.0,115.77 228.5,115.83 229.0,115.88 229.5,115.91 230.0,115.93 230.5,115.93 231.0,115.93 231.5,115.96 232.0,116.07 232.5,116.30 233.0,116.69 233.5,117.27 234.0,118.05 234.5,119.03 235.0,120.16 235.5,121.45 236.0,122.87 236.5,124.39 237.0,126.01 237.5,127.70 238.0,129.45 238.5,131.20 239.0,132.89 239.5,134.48 240.0,135.91 240.5,137.18 241.0,138.32 241.5,139.34 242.0,140.27 242.5,141.14 243.0,141.96 243.5,142.76 244.0,143.56 244.5,144.35 245.0,145.13 245.5,145.90 246.0,146.67 246.5,147.43 247.0,148.19 247.5,148.94 248.0,149.68 248.5,150.41 249.0,151.13 249.5,151.85 250.0,152.56 250.5,153.26 251.0,153.95 251.5,154.63 252.0,155.31 252.5,155.97 253.0,156.63 253.5,157.28 254.0,157.92 254.5,158.55 255.0,159.18 255.5,159.80 256.0,160.41 256.5,161.01 257.0,161.60 257.5,162.19 258.0,162.77 258.5,163.34 259.0,163.91 259.5,164.47 260.0,165.03 260.5,165.57 261.0,166.11 261.5,166.65 262.0,167.18 262.5,167.70 263.0,168.22 263.5,168.73 264.0,169.24 264.5,169.74 265.0,170.24 265.5,170.73 266.0,171.22 266.5,171.70 267.0,172.18 267.5,172.65 268.0,173.12 268.5,173.58 269.0,174.05 269.5,174.50 270.0,174.96 270.5,175.41 271.0,175.86 271.5,176.30 272.0,176.74 272.5,177.18 273.0,177.61 273.5,178.05 274.0,178.48 274.5,178.91 275.0,179.33 275.5,179.76 276.0,180.18 276.5,180.60 277.0,181.02 277.5,181.43 278.0,181.85 278.5,182.26 279.0,182.67 279.5,183.08 280.0,183.49 280.5,183.89 281.0,184.30 281.5,184.70 282.0,185.10 282.5,185.49 283.0,185.89 283.5,186.28 284.0,186.67 284.5,187.06 285.0,187.45 285.5,187.83 286.0,188.22 286.5,188.60 287.0,188.97 287.5,189.35 288.0,189.72 288.5,190.09 289.0,190.46 289.5,190.83 290.0,191.19 290.5,191.55 291.0,191.91 291.5,192.26 292.0,192.62 292.5,192.97 293.0,193.32 293.5,193.66 294.0,194.01 294.5,194.35 295.0,194.68 295.5,195.02 296.0,195.35 296.5,195.68 297.0,196.01 297.5,196.33 298.0,196.65 298.5,196.97 299.0,197.29 299.5,197.60 300.0,197.91 300.5,198.21 301.0,198.52 301.5,198.82 302.0,199.12 302.5,199.41 303.0,199.70 303.5,199.99 304.0,200.27 304.5,200.56 305.0,200.83 305.5,201.11 306.0,201.38 306.5,201.65 307.0,201.92 307.5,202.18 308.0,202.44 308.5,202.69 309.0,202.95 309.5,203.20 310.0,203.44 310.5,203.69 311.0,203.93 311.5,204.17 312.0,204.40 312.5,204.63 313.0,204.86 313.5,205.09 314.0,205.31 314.5,205.53 315.0,205.75 315.5,205.96 316.0,206.17 316.5,206.38 317.0,206.59 317.5,206.79 318.0,206.99 318.5,207.19 319.0,207.38 319.5,207.57 320.0,207.76 320.5,207.95 321.0,208.13 321.5,208.31 322.0,208.49 322.5,208.66 323.0,208.83 323.5,209.00 324.0,209.17 324.5,209.34 325.0,209.50 325.5,209.66 326.0,209.81 326.5,209.97 327.0,210.12 327.5,210.27 328.0,210.41 328.5,210.56 329.0,210.70 329.5,210.84 330.0,210.98 330.5,211.11 331.0,211.24 331.5,211.37 332.0,211.50 332.5,211.62 333.0,211.75 333.5,211.87 334.0,211.98 334.5,212.10 335.0,212.21 335.5,212.32 336.0,212.43 336.5,212.54 337.0,212.64 337.5,212.75 338.0,212.85 338.5,212.94 339.0,213.04 339.5,213.13 340.0,213.23 340.5,213.32 341.0,213.40" stroke="#6c6c6c" stroke-width="1.3"/>
<path d="M60.0,137.50 60.5,137.50 61.0,137.50 61.5,137.50 62.0,137.50 62.5,137.50 63.0,137.50 63.5,137.50 64.0,137.50 64.5,137.50 65.0,137.50 65.5,137.50 66.0,137.50 66.5,137.50 67.0,137.50 67.5,137.50 68.0,137.50 68.5,137.50 69.0,137.50 69.5,137.50 70.0,137.50 70.5,137.50 71.0,137.50 71.5,137.50 72.0,137.50 72.5,137.50 73.0,137.50 73.5,137.50 74.0,137.50 74.5,137.50 75.0,137.50 75.5,137.50 76.0,137.50 76.5,137.50 77.0,137.50 77.5,137.50 78.0,137.50 78.5,137.50 79.0,137.50 79.5,137.50 80.0,137.50 80.5,137.50 81.0,137.50 81.5,137.50 82.0,137.50 82.5,137.50 83.0,137.50 83.5,137.50 84.0,137.50 84.5,137.50 85.0,137.50 85.5,137.50 86.0,137.50 86.5,137.50 87.0,137.50 87.5,137.50 88.0,137.50 88.5,137.50 89.0,137.50 89.5,137.50 90.0,137.50 90.5,137.50 91.0,137.50 91.5,137.50 92.0,137.50 92.5,137.50 93.0,137.50 93.5,137.50 94.0,137.50 94.5,137.50 95.0,137.50 95.5,137.50 96.0,137.50 96.5,137.50 97.0,137.50 97.5,137.50 98.0,137.50 98.5,137.50 99.0,137.50 99.5,137.50 100.0,137.50 100.5,137.50 101.0,137.50 101.5,137.50 102.0,137.50 102.5,137.50 103.0,137.50 103.5,137.50 104.0,137.50 104.4,137.50 104.9,137.50 105.4,137.50 105.9,137.50 106.4,137.50 106.9,137.50 107.4,137.50 107.9,137.50 108.4,137.50 108.9,137.50 109.4,137.50 109.9,137.50 110.4,137.50 110.9,137.50 111.4,137.50 111.9,137.50 112.4,137.50 112.9,137.50 113.4,137.50 113.9,137.50 114.4,137.50 114.9,137.50 115.4,137.50 115.9,137.50 116.4,137.50 116.9,137.50 117.4,137.50 117.9,137.50 118.4,137.50 118.9,137.50 119.4,137.50 119.9,137.50 120.4,137.50 120.9,137.50 121.4,137.50 121.9,137.50 122.4,137.50 122.9,137.50 123.4,137.50 123.9,137.50 124.4,137.50 124.9,137.50 125.4,137.50 125.9,137.50 126.4,137.50 126.9,137.50 127.4,137.50 127.9,137.50 128.4,137.50 128.9,137.50 129.4,137.50 129.9,137.50 130.4,137.50 130.9,137.50 131.4,137.50 131.9,137.50 132.4,137.50 132.9,137.50 133.4,137.50 133.9,137.50 134.4,137.50 134.9,137.50 135.4,137.50 135.9,137.50 136.4,137.50 136.9,137.50 137.4,137.50 137.9,137.50 138.4,137.50 138.9,137.50 139.4,137.50 139.9,137.50 140.4,137.50 140.9,137.50 141.4,137.50 141.9,137.50 142.4,137.50 142.9,137.50 143.4,137.50 143.9,137.50 144.4,137.50 144.9,137.50 145.4,137.50 145.9,137.50 146.4,137.50 146.9,137.50 147.4,137.50 147.9,137.50 148.4,137.50 148.9,137.50 149.4,137.50 149.9,137.50 150.4,137.50 150.9,137.50 151.4,137.50 151.9,137.50 152.4,137.50 152.9,137.50 153.4,137.49 153.9,137.49 154.4,137.49 154.9,137.49 155.4,137.49 155.9,137.48 156.4,137.48 156.9,137.48 157.4,137.47 157.9,137.47 158.4,137.47 158.9,137.46 159.4,137.46 159.9,137.46 160.4,137.45 160.9,137.45 161.4,137.44 161.9,137.44 162.4,137.44 162.9,137.43 163.4,137.43 163.9,137.42 164.4,137.42 164.9,137.41 165.4,137.41 165.9,137.40 166.4,137.40 166.9,137.39 167.4,137.38 167.9,137.38 168.4,137.37 168.9,137.36 169.4,137.35 169.9,137.34 170.4,137.33 170.9,137.32 171.4,137.30 171.9,137.29 172.4,137.28 172.9,137.26 173.4,137.25 173.9,137.23 174.4,137.21 174.9,137.20 175.4,137.18 175.9,137.16 176.4,137.14 176.9,137.12 177.4,137.10 177.9,137.08 178.4,137.06 178.9,137.04 179.4,137.01 179.9,136.99 180.4,136.97 180.9,136.94 181.4,136.92 181.9,136.89 182.4,136.87 182.9,136.84 183.4,136.81 183.9,136.78 184.4,136.76 184.9,136.73 185.4,136.70 185.9,136.67 186.4,136.64 186.9,136.61 187.4,136.57 187.9,136.54 188.4,136.51 188.9,136.48 189.4,136.44 189.9,136.40 190.4,136.35 190.9,136.31 191.4,136.25 191.9,136.20 192.4,136.14 192.9,136.08 193.3,136.02 193.8,135.95 194.3,135.88 194.8,135.81 195.3,135.74 195.8,135.66 196.3,135.58 196.8,135.49 197.3,135.41 197.8,135.32 198.3,135.23 198.8,135.14 199.3,135.04 199.8,134.95 200.3,134.85 200.8,134.75 201.3,134.64 201.8,134.54 202.3,134.43 202.8,134.32 203.3,134.21 203.8,134.10 204.3,133.99 204.8,133.87 205.3,133.76 205.8,133.64 206.3,133.52 206.8,133.39 207.3,133.25 207.8,133.11 208.3,132.95 208.8,132.79 209.3,132.62 209.8,132.45 210.3,132.27 210.8,132.08 211.3,131.89 211.8,131.69 212.3,131.48 212.8,131.28 213.3,131.06 213.8,130.85 214.3,130.63 214.8,130.41 215.3,130.18 215.8,129.95 216.3,129.72 216.8,129.48 217.3,129.24 217.8,128.99 218.3,128.73 218.8,128.47 219.3,128.20 219.8,127.92 220.3,127.63 220.8,127.33 221.3,127.03 221.8,126.71 222.3,126.38 222.8,126.04 223.3,125.69 223.8,125.32 224.3,124.94 224.8,124.55 225.3,124.14 225.8,123.73 226.3,123.30 226.8,122.85 227.3,122.37 227.8,121.86 228.3,121.30 228.8,120.70 229.3,120.04 229.8,119.33 230.3,118.54 230.8,117.69 231.3,116.53 231.8,115.00 232.3,113.35 232.8,111.79 233.3,110.30 233.8,108.82 234.3,107.31 234.8,105.75 235.3,104.14 235.8,102.46 236.3,100.72 236.8,98.93 237.3,97.10 237.8,99.39 238.3,101.58 238.8,103.70 239.3,105.75 239.8,107.73 240.3,109.64 240.8,111.48 241.3,113.26 241.8,114.97 242.3,116.63 242.8,118.23 243.3,119.76 243.8,121.25 244.3,122.68 244.8,124.06 245.3,125.40 245.8,126.69 246.3,127.93 246.8,129.13 247.3,130.29 247.8,131.41 248.3,132.50 248.8,133.55 249.3,134.57 249.8,135.57 250.3,136.53 250.8,137.47 251.3,138.38 251.8,139.27 252.3,140.14 252.8,140.99 253.3,141.81 253.8,142.62 254.3,143.41 254.7,144.19 255.2,144.94 255.7,145.68 256.2,146.41 256.7,147.12 257.2,147.81 257.7,148.49 258.2,149.16 258.7,149.82 259.2,150.47 259.7,151.11 260.2,151.74 260.7,152.36 261.2,152.98 261.7,153.58 262.2,154.19 262.7,154.78 263.2,155.37 263.7,155.96 264.2,156.55 264.7,157.13 265.2,157.71 265.7,158.28 266.2,158.85 266.7,159.42 267.2,159.98 267.7,160.55 268.2,161.10 268.7,161.66 269.2,162.21 269.7,162.75 270.2,163.30 270.7,163.84 271.2,164.38 271.7,164.91 272.2,165.44 272.7,165.97 273.2,166.49 273.7,167.01 274.2,167.53 274.7,168.04 275.2,168.55 275.7,169.05 276.2,169.56 276.7,170.06 277.2,170.55 277.7,171.04 278.2,171.53 278.7,172.02 279.2,172.50 279.7,172.98 280.2,173.46 280.7,173.93 281.2,174.40 281.7,174.87 282.2,175.33 282.7,175.79 283.2,176.25 283.7,176.71 284.2,177.16 284.7,177.61 285.2,178.06 285.7,178.51 286.2,178.95 286.7,179.39 287.2,179.83 287.7,180.27 288.2,180.71 288.7,181.14 289.1,181.57 289.6,182.01 290.1,182.43 290.6,182.86 291.1,183.29 291.6,183.71 292.1,184.14 292.6,184.56 293.1,184.98 293.6,185.40 294.1,185.82 294.6,186.24 295.1,186.66 295.6,187.08 296.1,187.49 296.6,187.91 297.1,188.32 297.6,188.74 298.1,189.15 298.6,189.57 299.1,189.98 299.6,190.40 300.1,190.81 300.6,191.22 301.1,191.64 301.6,192.05 302.1,192.45 302.6,192.86 303.1,193.27 303.6,193.67 304.1,194.07 304.6,194.46 305.1,194.85 305.6,195.24 306.1,195.62 306.6,196.00 307.1,196.38 307.6,196.75 308.1,197.11 308.6,197.47 309.1,197.82 309.6,198.16 310.1,198.50 310.6,198.84 311.1,199.17 311.6,199.49 312.1,199.81 312.6,200.13 313.1,200.44 313.6,200.75 314.1,201.05 314.6,201.35 315.1,201.64 315.6,201.93 316.1,202.22 316.6,202.50 317.1,202.78 317.6,203.06 318.1,203.33 318.6,203.60 319.1,203.87 319.6,204.14 320.1,204.40 320.6,204.66 321.1,204.92 321.6,205.18 322.1,205.43 322.6,205.69 323.1,205.94 323.6,206.18 324.0,206.43 324.5,206.67 325.0,206.91 325.5,207.14 326.0,207.38 326.5,207.61 327.0,207.83 327.5,208.05 328.0,208.27 328.5,208.48 329.0,208.69 329.5,208.90 330.0,209.10 330.5,209.30 331.0,209.49 331.5,209.68 332.0,209.86 332.5,210.04 333.0,210.21 333.5,210.38 334.0,210.54 334.5,210.70 335.0,210.85 335.5,211.00 336.0,211.14 336.5,211.27 337.0,211.40 337.5,211.52 338.0,211.64 338.5,211.75 339.0,211.85 339.5,211.95 340.0,212.04 340.5,212.12 341.0,212.20" stroke="#8a8a8a" stroke-width="1.3" stroke-dasharray="1.6 2.5"/>
</g>
<path d="M52.6,229.60H54.6M341,229.60H338.4M52.6,208.28H54.6M341,208.28H338.4M52.6,186.96H54.6M341,186.96H338.4M52.6,165.64H54.6M341,165.64H338.4M52.6,144.32H54.6M341,144.32H338.4M52.6,123.00H54.6M341,123.00H338.4M52.6,101.68H54.6M341,101.68H338.4M52.6,80.36H54.6M341,80.36H338.4M52.6,59.04H54.6M341,59.04H338.4M52.6,37.72H54.6M341,37.72H338.4M52.6,16.40H54.6M341,16.40H338.4M51.00,229H51.00V226.2M51.00,17V19.6M144.80,229H144.80V226.2M144.80,17V19.6M238.60,229H238.60V226.2M238.60,17V19.6M332.40,229H332.40V226.2M332.40,17V19.6" stroke="#b4b4f4" stroke-width="0.8" fill="none"/>
<path d="M51,16.4H341.5M51,229.6H341.5" stroke="#4c4ce0" stroke-width="1.4" fill="none"/>
<path d="M51,15.7V230.3" stroke="#4c4ce0" stroke-width="1.6" fill="none"/>
<path d="M341.5,15.7V230.3" stroke="#4c4ce0" stroke-width="1" fill="none"/>
<text transform="translate(46.60,13.50) scale(0.94,1)" font-size="5.9" text-anchor="end" fill="#000" stroke="#000" stroke-width="0.27">5</text>
<text transform="translate(42.72,18.40) scale(0.94,1)" font-size="9.9" text-anchor="end" fill="#000" stroke="#000" stroke-width="0.27">10</text>
<text transform="translate(46.60,56.14) scale(0.94,1)" font-size="5.9" text-anchor="end" fill="#000" stroke="#000" stroke-width="0.27">3</text>
<text transform="translate(42.72,61.04) scale(0.94,1)" font-size="9.9" text-anchor="end" fill="#000" stroke="#000" stroke-width="0.27">10</text>
<text transform="translate(46.60,98.78) scale(0.94,1)" font-size="5.9" text-anchor="end" fill="#000" stroke="#000" stroke-width="0.27">1</text>
<text transform="translate(42.72,103.68) scale(0.94,1)" font-size="9.9" text-anchor="end" fill="#000" stroke="#000" stroke-width="0.27">10</text>
<text transform="translate(46.60,141.42) scale(0.94,1)" font-size="5.9" text-anchor="end" fill="#000" stroke="#000" stroke-width="0.27">-1</text>
<text transform="translate(40.87,146.32) scale(0.94,1)" font-size="9.9" text-anchor="end" fill="#000" stroke="#000" stroke-width="0.27">10</text>
<text transform="translate(46.60,184.06) scale(0.94,1)" font-size="5.9" text-anchor="end" fill="#000" stroke="#000" stroke-width="0.27">-3</text>
<text transform="translate(40.87,188.96) scale(0.94,1)" font-size="9.9" text-anchor="end" fill="#000" stroke="#000" stroke-width="0.27">10</text>
<text transform="translate(46.60,226.70) scale(0.94,1)" font-size="5.9" text-anchor="end" fill="#000" stroke="#000" stroke-width="0.27">-5</text>
<text transform="translate(40.87,231.60) scale(0.94,1)" font-size="9.9" text-anchor="end" fill="#000" stroke="#000" stroke-width="0.27">10</text>
<text transform="translate(51.00,239.60) scale(0.94,1)" font-size="9.9" text-anchor="middle" fill="#000" stroke="#000" stroke-width="0.27">0.01</text>
<text transform="translate(144.80,239.60) scale(0.94,1)" font-size="9.9" text-anchor="middle" fill="#000" stroke="#000" stroke-width="0.27">0.1</text>
<text transform="translate(238.60,239.60) scale(0.94,1)" font-size="9.9" text-anchor="middle" fill="#000" stroke="#000" stroke-width="0.27">1</text>
<text transform="translate(332.40,239.60) scale(0.94,1)" font-size="9.9" text-anchor="middle" fill="#000" stroke="#000" stroke-width="0.27">10</text>
<text transform="translate(194.50,261.00) scale(0.94,1)" font-size="9.9" text-anchor="middle" fill="#000" stroke="#000" stroke-width="0.27">Frequency (Hz)</text>
<text transform="translate(7.90,118.00) rotate(-90) scale(1.0,1)" font-size="9.3" text-anchor="middle" fill="#000" stroke="#000" stroke-width="0.27">Spectral Density</text>
<rect x="57.5" y="146.6" width="96.1" height="74.8" fill="#fff" stroke="#3c3c3c" stroke-width="1"/>
<path d="M61.3,154.50H79.2" stroke="#f29090" stroke-width="1.1"/>
<text transform="translate(81.70,157.80) scale(0.94,1)" font-size="9.9" fill="#e00c0c" stroke="#e00c0c" stroke-width="0.27">Iso Uniform Het</text>
<path d="M61.3,166.30H79.2" stroke="#5454e6" stroke-width="1.1"/>
<text transform="translate(81.70,169.60) scale(0.94,1)" font-size="9.9" fill="#0c0cdc" stroke="#0c0cdc" stroke-width="0.27">Iso Uniform Hom</text>
<path d="M61.3,178.10H79.2" stroke="#5a5a5a" stroke-width="1.1"/>
<text transform="translate(81.70,181.40) scale(0.94,1)" font-size="9.9" fill="#000" stroke="#000" stroke-width="0.27">1D Uniform Het</text>
<path d="M61.3,189.90H79.2" stroke="#98cc98" stroke-width="1.1"/>
<text transform="translate(81.70,193.20) scale(0.94,1)" font-size="9.9" fill="#0a780a" stroke="#0a780a" stroke-width="0.27">1D Uniform Hom</text>
<path d="M61.3,201.70H79.5" stroke="#707070" stroke-width="1.3" stroke-dasharray="1.4 2.8"/>
<text transform="translate(81.70,205.00) scale(0.94,1)" font-size="9.9" fill="#000" stroke="#000" stroke-width="0.27">1D Delta Het</text>
<path d="M61.3,213.50H79.5" stroke="#80bc80" stroke-width="1.3" stroke-dasharray="1.4 2.8"/>
<text transform="translate(81.70,216.80) scale(0.94,1)" font-size="9.9" fill="#0a780a" stroke="#0a780a" stroke-width="0.27">1D Delta Hom</text>
</svg></body></html>
